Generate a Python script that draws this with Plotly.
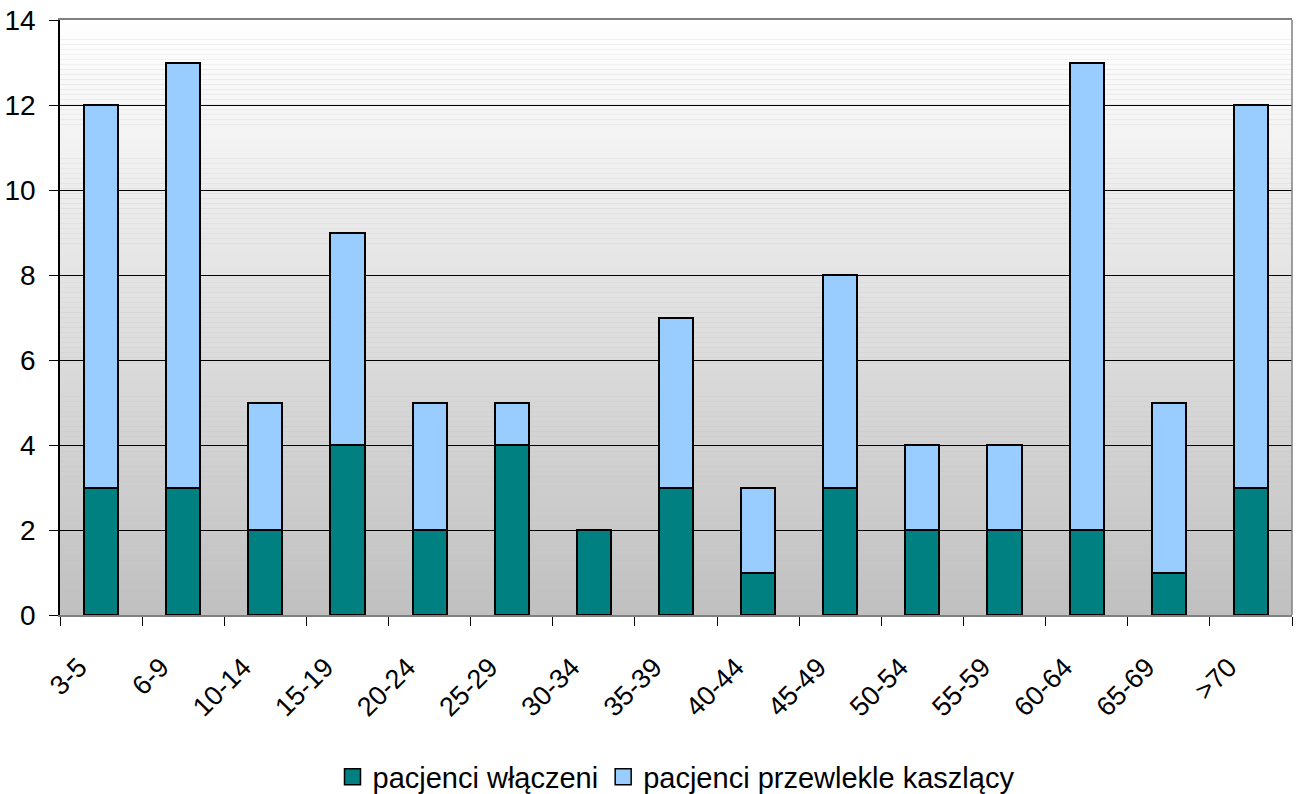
import plotly.graph_objects as go

categories = ["3-5", "6-9", "10-14", "15-19", "20-24", "25-29", "30-34", "35-39",
              "40-44", "45-49", "50-54", "55-59", "60-64", "65-69", ">70"]
included = [3, 3, 2, 4, 2, 4, 2, 3, 1, 3, 2, 2, 2, 1, 3]
chronic_cough = [9, 10, 3, 5, 3, 1, 0, 4, 2, 5, 2, 2, 11, 4, 9]
series_names = ["pacjenci włączeni", "pacjenci przewlekle kaszlący"]
series_colors = ["#008080", "#99CCFF"]
y_ticks = [0, 2, 4, 6, 8, 10, 12, 14]

FONT = "Liberation Sans, Arial, sans-serif"

fig = go.Figure()
for vals, name, col in zip([included, chronic_cough], series_names, series_colors):
    fig.add_trace(go.Bar(x=categories, y=vals, name=name, showlegend=False,
                         marker=dict(color=col, line=dict(color="black", width=2))))
# legend-only entries with larger square symbols
for name, col in zip(series_names, series_colors):
    fig.add_trace(go.Scatter(x=[None], y=[None], mode="markers", name=name,
                             marker=dict(symbol="square", size=16, color=col,
                                         line=dict(color="black", width=1.5))))

# gradient background strips (white at top to gray at bottom)
n = 120
shapes = []
for i in range(n):
    t = (i + 0.5) / n  # 0 at bottom, 1 at top
    v = int(round(192 + (255 - 192) * t))
    shapes.append(dict(type="rect", xref="x domain", yref="y domain",
                       x0=0, x1=1, y0=i / n, y1=(i + 1) / n,
                       fillcolor=f"rgb({v},{v},{v})", line=dict(width=0),
                       layer="below"))
shapes.append(dict(type="line", xref="x domain", yref="y domain",
                   x0=1, x1=1, y0=0, y1=1, line=dict(color="#808080", width=1.5),
                   layer="above"))

fig.update_layout(
    width=1298, height=794,
    barmode="stack", bargap=0.585,
    paper_bgcolor="white", plot_bgcolor="#c0c0c0",
    margin=dict(l=60, r=6, t=20, b=179, autoexpand=False),
    font=dict(family=FONT, size=28, color="black"),
    shapes=shapes,
    showlegend=True,
    legend=dict(orientation="h", x=0.5, xanchor="center", y=-0.272, yanchor="middle",
                traceorder="normal", font=dict(size=29),
                bgcolor="rgba(0,0,0,0)"),
)
fig.update_xaxes(
    type="category", tickson="boundaries", ticks="outside", ticklen=9,
    tickcolor="black", tickangle=-45, showline=True, linecolor="#808080",
    linewidth=1.5, mirror=True, showgrid=False, tickfont=dict(size=27),
    automargin=False, ticklabelshift=-22, ticklabelstandoff=24,
    ticklabeloverflow="allow",
)
fig.update_yaxes(
    range=[0, 14], tickvals=y_ticks, ticks="outside", ticklen=9, tickcolor="black",
    showline=True, linecolor="black", linewidth=1.5, showgrid=True,
    gridcolor="black", gridwidth=1, zeroline=False, tickfont=dict(size=28),
    ticklabelstandoff=8, automargin=False, ticklabeloverflow="allow",
)

fig.write_html("out.html", config={"displayModeBar": False},
               post_script="document.body.style.margin='0';document.body.style.overflow='hidden';")
